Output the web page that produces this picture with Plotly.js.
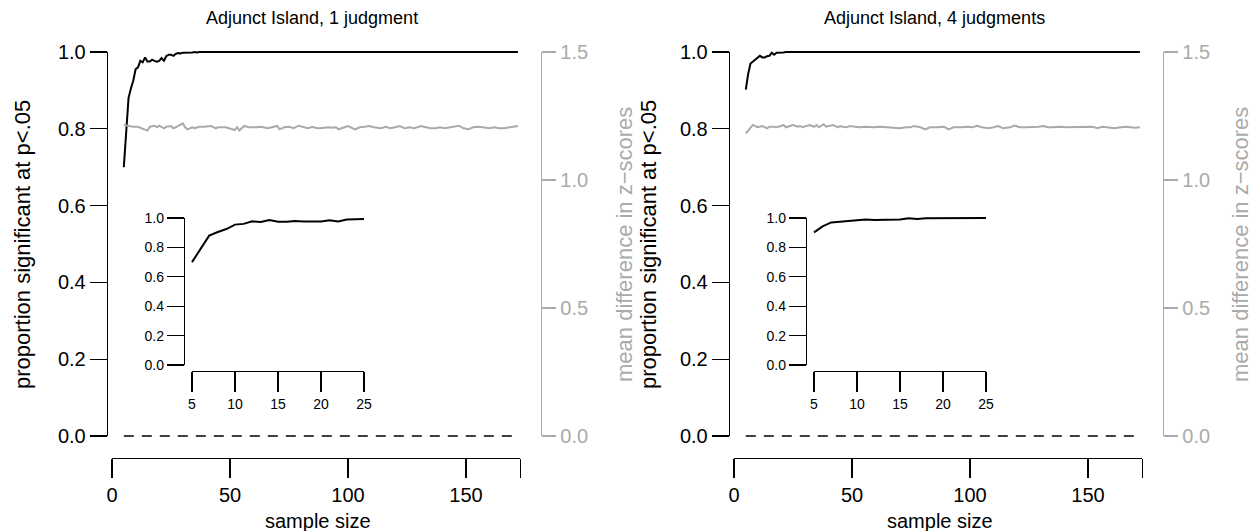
<!DOCTYPE html>
<html><head><meta charset="utf-8">
<script src="https://cdn.plot.ly/plotly-3.0.1.min.js"></script>
<style>html,body{margin:0;padding:0;background:#fff}#chart{width:1255px;height:531px}</style>
</head><body><div id="chart"></div>
<script>
// ---------------- data ----------------
const panelTitles = ['Adjunct Island, 1 judgment', 'Adjunct Island, 4 judgments'];
const xTitle = 'sample size';
const yTitleLeft = 'proportion significant at p<.05';
const yTitleRight = 'mean difference in z\u2212scores';

// proportion significant (black)
const sigX1 = [5,6,7,8,9,10,11,12,13,14,15,16,17,18,19,20,21,22,23,24,25,26,27,28,29,30,31,32,33,34,35,36,37,172];
const sigY1 = [0.70,0.79,0.88,0.905,0.925,0.955,0.96,0.977,0.973,0.986,0.975,0.975,0.98,0.977,0.975,0.977,0.984,0.977,0.989,0.993,0.993,0.99,0.995,0.997,0.996,0.998,0.998,0.999,0.998,0.999,1,0.999,1,1];
const sigX4 = [5,6,7,8,9,10,11,12,13,14,15,16,17,18,19,20,21,22,23,24,25,172];
const sigY4 = [0.902,0.943,0.97,0.975,0.98,0.986,0.99,0.986,0.986,0.989,0.99,0.998,0.993,0.998,0.998,0.999,0.999,1,1,1,1,1];

// mean difference in z-scores (grey)
const diffX1 = [5,7,9,11,13,15,16,18,19,20,22,23,25,26,27,30,31,32,34,35,37,39,42,44,45,48,51,52,53,54,56,58,61,63,66,68,70,71,73,75,77,79,81,83,85,86,88,90,92,93,95,96,99,100,103,105,107,109,111,114,116,118,120,122,124,126,128,131,133,135,137,139,141,143,145,147,149,151,153,155,157,160,162,164,166,168,170,172];
const diffY1 = [1.215,1.212,1.208,1.208,1.202,1.193,1.208,1.212,1.206,1.212,1.202,1.208,1.211,1.202,1.206,1.221,1.206,1.198,1.206,1.202,1.208,1.208,1.211,1.202,1.206,1.206,1.198,1.195,1.206,1.193,1.211,1.206,1.206,1.208,1.202,1.206,1.211,1.198,1.206,1.208,1.202,1.212,1.206,1.202,1.208,1.204,1.202,1.204,1.206,1.204,1.206,1.198,1.208,1.211,1.198,1.206,1.208,1.211,1.206,1.202,1.208,1.202,1.206,1.211,1.202,1.206,1.202,1.211,1.206,1.202,1.202,1.206,1.202,1.206,1.208,1.212,1.202,1.198,1.206,1.208,1.206,1.202,1.206,1.202,1.202,1.206,1.208,1.211];
const diffX4 = [5,7,8,10,11,12,14,15,17,18,20,21,22,24,25,27,28,29,31,32,34,35,36,38,39,41,42,44,45,46,48,49,51,53,56,59,62,65,68,70,73,75,76,79,81,83,86,89,91,93,96,99,101,103,105,108,110,112,114,117,119,121,124,127,129,131,133,135,138,141,144,147,149,152,154,156,158,161,164,166,168,170,172];
const diffY4 = [1.182,1.202,1.215,1.206,1.208,1.211,1.202,1.208,1.208,1.206,1.211,1.215,1.206,1.211,1.215,1.208,1.211,1.206,1.211,1.215,1.208,1.215,1.206,1.218,1.208,1.211,1.215,1.206,1.211,1.208,1.206,1.211,1.208,1.206,1.208,1.206,1.208,1.206,1.206,1.202,1.206,1.206,1.211,1.206,1.198,1.206,1.206,1.208,1.198,1.206,1.206,1.208,1.206,1.212,1.206,1.202,1.206,1.211,1.202,1.206,1.213,1.206,1.206,1.206,1.208,1.211,1.206,1.206,1.208,1.206,1.206,1.208,1.206,1.208,1.202,1.208,1.206,1.202,1.206,1.208,1.206,1.204,1.206];

// null-effect reference (dashed)
const nullX = [5, 172];
const nullY = [0, 0];

// axis ticks
const mainXTicks = [0, 50, 100, 150, 173];
const mainXTickText = ['0', '50', '100', '150', ''];
const propTicks = [0, 0.2, 0.4, 0.6, 0.8, 1.0];
const diffTicks = [0, 0.5, 1.0, 1.5];
const insetXTicks = [5, 10, 15, 20, 25];
const insetMaxN = 25;

// ---------------- layout helpers ----------------
const W = 1255, H = 531;
const FONT = 'Liberation Sans, Arial, Helvetica, sans-serif';
const GREY = '#aaaaaa';
const fx = p => p / W;
const fy = p => 1 - p / H;
const domX = (a, b) => [fx(a), fx(b)];
const domY = (top, bottom) => [fy(bottom), fy(top)];

// main plot geometry (pixels)
const X0 = 112, SX = 2.36, PL = 108, PR = 541;
const Y1 = 52, Y0 = 436, PT = 36, PB = 458;
// inset geometry
const IX5 = 192, ISX = 8.6, IY1 = 218, IY0 = 365;

const layout = {
  width: W, height: H,
  margin: {l: 0, r: 0, t: 0, b: 0},
  paper_bgcolor: '#ffffff', plot_bgcolor: 'rgba(0,0,0,0)',
  showlegend: false,
  font: {family: FONT, size: 18, color: '#000'},
  annotations: []
};
const traces = [];

const hidden = {showline: false, showticklabels: false, ticks: '', showgrid: false, zeroline: false, fixedrange: true};
function axStyle(color, size, len) {
  return {showline: true, linecolor: color, linewidth: 1.3, ticks: 'outside', ticklen: len, tickwidth: 1.3,
    tickcolor: color, showgrid: false, zeroline: false, tickfont: {family: FONT, size: size, color: color}, fixedrange: true};
}
const nm = (l, n) => (n === 1 ? l + 'axis' : l + 'axis' + n);
const rf = (l, n) => (n === 1 ? l : l + n);

function buildPanel(i, dx, sx, sy, gx, gy, labelPos) {
  const xb = i * 4, yb = i * 5;
  const xD = xb + 1, xA = xb + 2, xI = xb + 3, xIA = xb + 4;
  const yD = yb + 1, yA = yb + 2, yR = yb + 3, yI = yb + 4, yIA = yb + 5;

  const yr = [(Y0 - PB) / (Y0 - Y1), (Y0 - PT) / (Y0 - Y1)];
  // data scales of the main plot (R plot region)
  layout[nm('x', xD)] = Object.assign({}, hidden, {domain: domX(PL + dx, PR + dx), range: [(PL - X0) / SX, (PR - X0) / SX], anchor: rf('y', yD)});
  layout[nm('y', yD)] = Object.assign({}, hidden, {domain: domY(PT, PB), range: yr, anchor: rf('x', xD)});
  // drawn axes (R style: line only between first and last tick)
  layout[nm('x', xA)] = Object.assign(axStyle('#000', 20, 19), {domain: domX(X0 + dx, X0 + dx + 173 * SX), range: [0, 173],
    tickmode: 'array', tickvals: mainXTicks, ticktext: mainXTickText, anchor: rf('y', yD)});
  layout[nm('y', yA)] = Object.assign(axStyle('#000', 20, 17), {domain: domY(Y1, Y0), range: [0, 1],
    tickmode: 'array', tickvals: propTicks, ticktext: propTicks.map(v => v.toFixed(1)), anchor: rf('x', xD)});
  layout[nm('y', yR)] = Object.assign(axStyle(GREY, 20, 14), {domain: domY(Y1, Y0), range: [0, 1.5], side: 'right',
    tickmode: 'array', tickvals: diffTicks, ticktext: diffTicks.map(v => v.toFixed(1)), anchor: rf('x', xD)});

  // inset scales and axes
  layout[nm('x', xI)] = Object.assign({}, hidden, {domain: domX(IX5 - 0.8 * ISX + dx, IX5 + 20.8 * ISX + dx), range: [4.2, 25.8], anchor: rf('y', yI)});
  const isy = (IY0 - IY1);
  layout[nm('y', yI)] = Object.assign({}, hidden, {domain: domY(IY1 - 0.04 * isy, IY0 + 0.04 * isy), range: [-0.04, 1.04], anchor: rf('x', xI)});
  layout[nm('x', xIA)] = Object.assign(axStyle('#000', 14, 20), {domain: domX(IX5 + dx, IX5 + 20 * ISX + dx), range: [5, 25],
    tickmode: 'array', tickvals: insetXTicks, anchor: rf('y', yI)});
  layout[nm('y', yIA)] = Object.assign(axStyle('#000', 14, 17), {domain: domY(IY1, IY0), range: [0, 1],
    tickmode: 'array', tickvals: propTicks, ticktext: propTicks.map(v => v.toFixed(1)), anchor: rf('x', xI)});

  const skip = {hoverinfo: 'skip', showlegend: false};
  // grey: mean difference (right axis)
  traces.push(Object.assign({type: 'scatter', mode: 'lines', x: gx, y: gy, xaxis: rf('x', xD), yaxis: rf('y', yR),
    line: {color: GREY, width: 2}}, skip));
  // dashed null line
  traces.push(Object.assign({type: 'scatter', mode: 'lines', x: nullX, y: nullY, xaxis: rf('x', xA), yaxis: rf('y', yD),
    line: {color: '#000', width: 1.6, dash: '10px,8px'}}, skip));
  // black: proportion significant
  traces.push(Object.assign({type: 'scatter', mode: 'lines', x: sx, y: sy, xaxis: rf('x', xD), yaxis: rf('y', yD),
    line: {color: '#000', width: 2}}, skip));
  // left axis subplot (no marks drawn, registers the axis)
  traces.push(Object.assign({type: 'scatter', mode: 'none', x: sx, y: sy, xaxis: rf('x', xD), yaxis: rf('y', yA)}, skip));
  // inset
  const ix = [], iy = [];
  sx.forEach((v, k) => { if (v <= insetMaxN) { ix.push(v); iy.push(sy[k]); } });
  traces.push(Object.assign({type: 'scatter', mode: 'lines', x: ix, y: iy, xaxis: rf('x', xI), yaxis: rf('y', yI),
    line: {color: '#000', width: 2}}, skip));
  traces.push(Object.assign({type: 'scatter', mode: 'none', x: ix, y: iy, xaxis: rf('x', xIA), yaxis: rf('y', yI)}, skip));
  traces.push(Object.assign({type: 'scatter', mode: 'none', x: ix, y: iy, xaxis: rf('x', xI), yaxis: rf('y', yIA)}, skip));

  // texts
  const ann = layout.annotations;
  ann.push({text: panelTitles[i], xref: 'paper', yref: 'paper', x: fx(312 + dx), y: fy(18), xanchor: 'center', yanchor: 'middle',
    showarrow: false, font: {family: FONT, size: 18, color: '#000'}});
  ann.push({text: xTitle, xref: 'paper', yref: 'paper', x: fx(318 + dx), y: fy(521), xanchor: 'center', yanchor: 'middle',
    showarrow: false, font: {family: FONT, size: 20, color: '#000'}});
  ann.push({text: yTitleLeft, xref: 'paper', yref: 'paper', x: fx(labelPos[0]), y: fy(245), xanchor: 'center', yanchor: 'middle',
    textangle: -90, showarrow: false, font: {family: FONT, size: 22, color: '#000'}});
  ann.push({text: yTitleRight, xref: 'paper', yref: 'paper', x: fx(labelPos[1]), y: fy(245), xanchor: 'center', yanchor: 'middle',
    textangle: -90, showarrow: false, font: {family: FONT, size: 22, color: GREY}});
}

buildPanel(0, 0, sigX1, sigY1, diffX1, diffY1, [23, 625]);
buildPanel(1, 622, sigX4, sigY4, diffX4, diffY4, [649, 1241]);

Plotly.newPlot('chart', traces, layout, {staticPlot: true, displayModeBar: false});
</script>
</body></html>
